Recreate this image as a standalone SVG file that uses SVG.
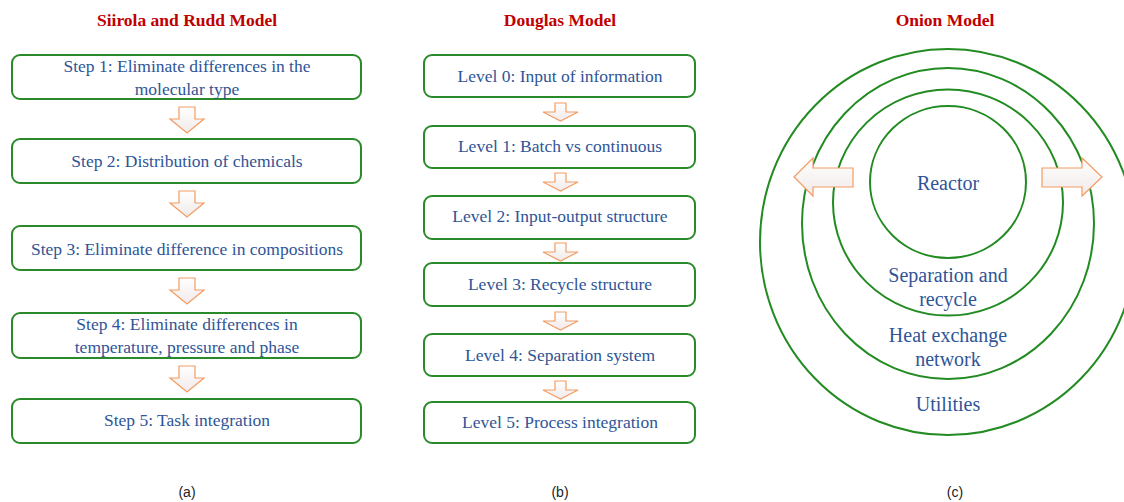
<svg xmlns="http://www.w3.org/2000/svg" width="1124" height="502" viewBox="0 0 1124 502">
<defs>
<linearGradient id="ag" x1="0" y1="0" x2="0" y2="1">
<stop offset="0" stop-color="#ffffff"/>
<stop offset="1" stop-color="#f1e9e9"/>
</linearGradient>
<path id="dA" d="M-8,0 H8 V12 H17 L0,26 L-17,12 H-8 Z"/>
<path id="dB" d="M-5.5,0 H5.5 V9 H17.5 L0,18 L-17.5,9 H-5.5 Z"/>
</defs>
<style>
.box{fill:#ffffff;stroke:#2a8a2a;stroke-width:2}
.ring{fill:none;stroke:#228b22;stroke-width:2}
.arr{fill:url(#ag);stroke:#f29c63;stroke-width:1.2;stroke-linejoin:miter}
.t{font-family:"Liberation Serif",serif;font-size:17.5px;fill:#2f5597;text-anchor:middle}
.o{font-family:"Liberation Serif",serif;font-size:20px;fill:#2f5597;text-anchor:middle}
.h{font-family:"Liberation Serif",serif;font-size:17.5px;font-weight:bold;fill:#c00000;text-anchor:middle}
.c{font-family:"Liberation Sans",sans-serif;font-size:14px;fill:#222222;text-anchor:middle}
</style>
<rect width="1124" height="502" fill="#ffffff"/>

<text class="h" x="187" y="26">Siirola and Rudd Model</text>
<text class="h" x="560" y="26">Douglas Model</text>
<text class="h" x="945" y="26">Onion Model</text>

<g id="connectors">
<use href="#dA" class="arr" transform="translate(187,107)"/>
<use href="#dA" class="arr" transform="translate(187,191)"/>
<use href="#dA" class="arr" transform="translate(187,278)"/>
<use href="#dA" class="arr" transform="translate(187,366)"/>
<use href="#dB" class="arr" transform="translate(560.5,103)"/>
<use href="#dB" class="arr" transform="translate(560.5,173)"/>
<use href="#dB" class="arr" transform="translate(560.5,243)"/>
<use href="#dB" class="arr" transform="translate(560.5,312)"/>
<use href="#dB" class="arr" transform="translate(560.5,381)"/>
</g>

<g id="step1"><rect class="box" x="12" y="55" width="349" height="44" rx="8"/>
<text class="t" x="187" y="72">Step 1: Eliminate differences in the</text>
<text class="t" x="187" y="95">molecular type</text></g>
<g id="step2"><rect class="box" x="12" y="139" width="349" height="44" rx="8"/>
<text class="t" x="187" y="167">Step 2: Distribution of chemicals</text></g>
<g id="step3"><rect class="box" x="12" y="226" width="349" height="44" rx="8"/>
<text class="t" x="187" y="255">Step 3: Eliminate difference in compositions</text></g>
<g id="step4"><rect class="box" x="12" y="313" width="349" height="45" rx="8"/>
<text class="t" x="187" y="330">Step 4: Eliminate differences in</text>
<text class="t" x="187" y="353">temperature, pressure and phase</text></g>
<g id="step5"><rect class="box" x="12" y="399" width="349" height="44" rx="8"/>
<text class="t" x="187" y="426">Step 5: Task integration</text></g>

<g id="level0"><rect class="box" x="424" y="55" width="271" height="42" rx="8"/>
<text class="t" x="560" y="82">Level 0: Input of information</text></g>
<g id="level1"><rect class="box" x="424" y="126" width="271" height="42" rx="8"/>
<text class="t" x="560" y="152">Level 1: Batch vs continuous</text></g>
<g id="level2"><rect class="box" x="424" y="196" width="271" height="43" rx="8"/>
<text class="t" x="560" y="222">Level 2: Input-output structure</text></g>
<g id="level3"><rect class="box" x="424" y="263" width="271" height="43" rx="8"/>
<text class="t" x="560" y="290">Level 3: Recycle structure</text></g>
<g id="level4"><rect class="box" x="424" y="334" width="271" height="42" rx="8"/>
<text class="t" x="560" y="361">Level 4: Separation system</text></g>
<g id="level5"><rect class="box" x="424" y="402" width="271" height="41" rx="8"/>
<text class="t" x="560" y="428">Level 5: Process integration</text></g>

<g id="onion">
<ellipse class="ring" cx="948" cy="242" rx="188" ry="193"/>
<ellipse class="ring" cx="948" cy="223.5" rx="146" ry="155.5"/>
<ellipse class="ring" cx="948" cy="202.5" rx="115" ry="113"/>
<ellipse class="ring" cx="948" cy="182" rx="78" ry="76"/>
<path class="arr" d="M853,168 H813 V158 L794,177 L813,196 V187 H853 Z"/>
<path class="arr" d="M1042,168 H1082 V158 L1102,177 L1082,196 V187 H1042 Z"/>
<text class="o" x="948" y="190">Reactor</text>
<text class="o" x="948" y="282">Separation and</text>
<text class="o" x="948" y="306">recycle</text>
<text class="o" x="948" y="342">Heat exchange</text>
<text class="o" x="948" y="366">network</text>
<text class="o" x="948" y="411">Utilities</text>
</g>

<text class="c" x="187" y="497">(a)</text>
<text class="c" x="560" y="497">(b)</text>
<text class="c" x="955" y="497">(c)</text>
</svg>
